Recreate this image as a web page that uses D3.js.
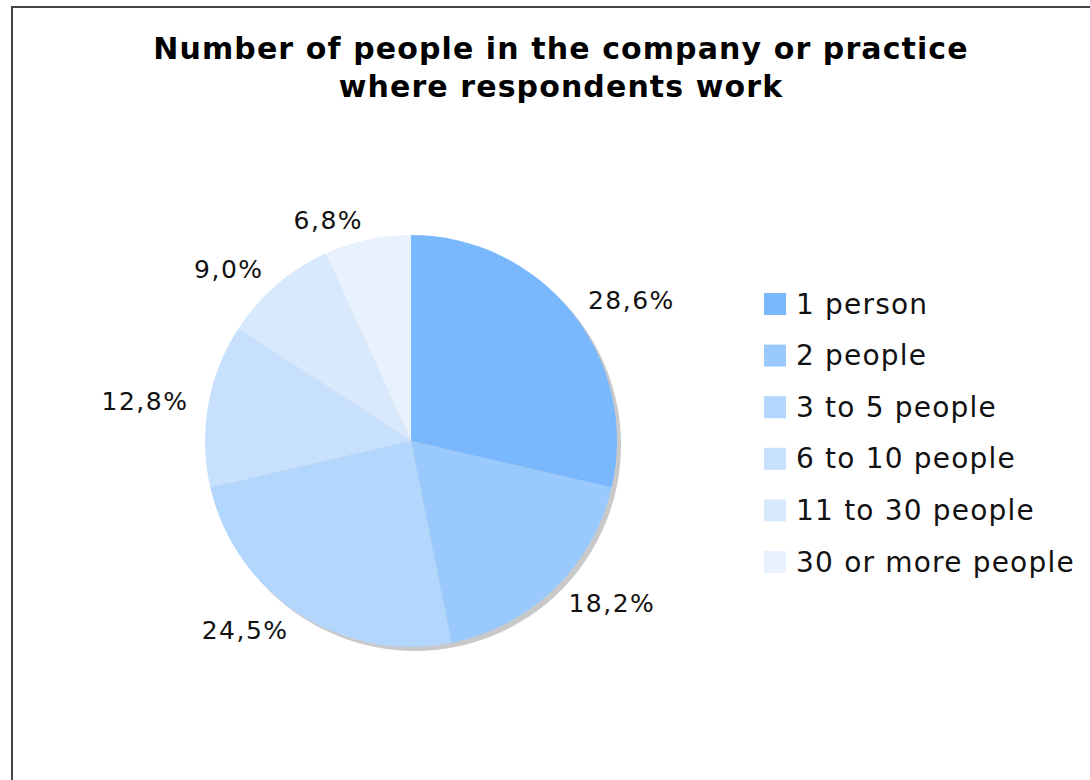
<!DOCTYPE html>
<html>
<head>
<meta charset="utf-8">
<script src="https://cdn.jsdelivr.net/npm/d3@7"></script>
<style>
  html, body { margin: 0; padding: 0; background: #fff; }
  svg { display: block; }
</style>
</head>
<body>
<svg id="chart" width="1090" height="780"></svg>
<script>
// MARK: Data.

const categories = ['1 person', '2 people', '3 to 5 people', '6 to 10 people', '11 to 30 people', '30 or more people']
const shares     = [28.6, 18.2, 24.5, 12.8, 9.0, 6.8]
const colors     = ['#7ab8fd', '#9acafd', '#b3d6fd', '#c7e0fd', '#d8e9fd', '#e8f2fe']
const titleLines = ['Number of people in the company or practice', 'where respondents work']

// MARK: Layout constants.

const WIDTH   = 1090
const HEIGHT  = 780
const CX      = 411
const CY      = 441
const RADIUS  = 206
const LABEL_R = 226
const FONT    = 'Verdana, "DejaVu Sans", sans-serif'

const svg = d3.select('#chart')

// Frame round the chart (it runs off the right and bottom of the picture)
svg.append('rect')
  .attr('x'           , 12)
  .attr('y'           , 7)
  .attr('width'       , WIDTH)
  .attr('height'      , HEIGHT)
  .attr('fill'        , 'none')
  .attr('stroke'      , '#444')
  .attr('stroke-width', 2)

// Title
svg.append('text')
  .attr('text-anchor'   , 'middle')
  .attr('font-family'   , FONT)
  .attr('font-weight'   , 'bold')
  .attr('font-size'     , 30)
  .attr('letter-spacing', 1.1)
  .attr('fill'          , '#000')
  .selectAll('tspan')
  .data(titleLines).enter()
  .append('tspan')
    .attr('x', 561)
    .attr('y', (d, i) => 59 + i * 38)
    .text((d) => d)

// Pie
const pie = d3.pie().sort(null).value((d) => d)
const arc = d3.arc().innerRadius(0).outerRadius(RADIUS)
const labelArc = d3.arc().innerRadius(LABEL_R).outerRadius(LABEL_R)
const color = d3.scaleOrdinal().domain(categories).range(colors)

const pieGroup = svg.append('g').attr('transform', `translate(${CX}, ${CY})`)

// Soft shadow to the lower right of the pie
pieGroup.append('circle')
  .attr('cx'  , 4)
  .attr('cy'  , 4)
  .attr('r'   , RADIUS)
  .attr('fill', '#c9c9c9')

const arcs = pie(shares)

pieGroup.selectAll('path')
  .data(arcs).enter()
  .append('path')
    .attr('d'   , arc)
    .attr('fill', (d, i) => color(categories[i]))

// Percentage labels, anchored on the side the slice lies on
const midAngle = (d) => (d.startAngle + d.endAngle) / 2
pieGroup.selectAll('text.value')
  .data(arcs).enter()
  .append('text')
    .attr('class'            , 'value')
    .attr('x'                , (d) => labelArc.centroid(d)[0])
    .attr('y'                , (d) => labelArc.centroid(d)[1])
    .attr('text-anchor'      , (d) => midAngle(d) < Math.PI ? 'start' : 'end')
    .attr('dominant-baseline', 'central')
    .attr('font-family'      , FONT)
    .attr('font-size'        , 25)
    .attr('letter-spacing'   , 1.5)
    .attr('fill'             , '#111')
    .text((d) => d3.format('.1f')(d.data).replace('.', ',') + '%')

// Legend
const legendY = d3.scalePoint().domain(categories).range([304, 562])

const legend = svg.append('g').selectAll('g')
  .data(categories).enter()
  .append('g')
    .attr('transform', (d) => `translate(764, ${legendY(d)})`)

legend.append('rect')
  .attr('x'     , 0)
  .attr('y'     , -11)
  .attr('width' , 22)
  .attr('height', 22)
  .attr('fill'  , (d) => color(d))

legend.append('text')
  .attr('x'                , 32)
  .attr('y'                , 0)
  .attr('dominant-baseline', 'central')
  .attr('font-family'      , FONT)
  .attr('font-size'        , 28)
  .attr('letter-spacing'   , 1.2)
  .attr('fill'             , '#111')
  .text((d) => d)
</script>
</body>
</html>
